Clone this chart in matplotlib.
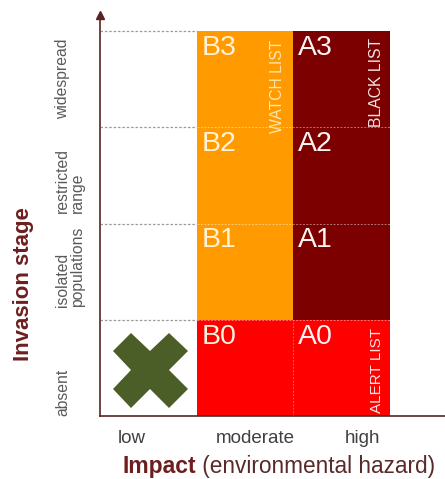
import matplotlib
matplotlib.use('Agg')
import matplotlib.pyplot as plt
from matplotlib.patches import Rectangle
from matplotlib.transforms import blended_transform_factory

plt.rcParams['font.family'] = ['Liberation Sans', 'DejaVu Sans']

# dados
impacto = ['low', 'moderate', 'high']
estagios = ['absent', 'isolated\npopulations', 'restricted\nrange', 'widespread']
codigos_moderate = ['B0', 'B1', 'B2', 'B3']
codigos_high = ['A0', 'A1', 'A2', 'A3']
cores_moderate = ['#fe0000', '#ff9a00', '#ff9a00', '#ff9a00']
cores_high = ['#fe0000', '#7c0000', '#7c0000', '#7c0000']
listas = ['WATCH LIST', 'BLACK LIST', 'ALERT LIST']
celula_excluida = ('low', 'absent')

fig = plt.figure(figsize=(4.45, 4.79), dpi=100)
ax = fig.add_axes([100/445, 63/479, 345/445, 401/479])
ax.set_xlim(0, 345/96.67)
ax.set_ylim(0, 401/96.25)

cor_eixo = '#5a2424'
for s in ['top', 'right']:
    ax.spines[s].set_visible(False)
for s in ['left', 'bottom']:
    ax.spines[s].set_color(cor_eixo)
    ax.spines[s].set_linewidth(1.2)

# células coloridas
for col, codigos, cores in [(1, codigos_moderate, cores_moderate), (2, codigos_high, cores_high)]:
    for lin, (cod, cor) in enumerate(zip(codigos, cores)):
        ax.add_patch(Rectangle((col, lin), 1, 1, facecolor=cor, edgecolor='none', zorder=1))
        cor_txt = '#fff3dc' if col == 1 else '#fff4f4'
        ax.text(col + 0.05, lin + 0.96, cod, color=cor_txt, fontsize=20.5,
                ha='left', va='top', zorder=3)

# linhas tracejadas
n = len(estagios)
for lin in range(1, n + 1):
    ax.plot([0, 1], [lin, lin], ls=(0, (2, 1.5)), color='#9a9a9a', lw=0.9, zorder=2)
    if lin < n:
        ax.plot([1, 3], [lin, lin], ls=(0, (2, 1.5)), color='#ffffff', lw=0.7, alpha=0.45, zorder=2)
ax.plot([2, 2], [0, 1], ls=(0, (2, 1.5)), color='#ffffff', lw=0.7, alpha=0.35, zorder=2)

# rótulos das listas
ax.text(1.84, 3.91, listas[0], rotation=90, ha='center', va='top', fontsize=11.3, color='#ffe6a8', zorder=3)
ax.text(2.865, 3.93, listas[1], rotation=90, ha='center', va='top', fontsize=11.3, color='#f4e4e4', zorder=3)
ax.text(2.865, 0.03, listas[2], rotation=90, ha='center', va='bottom', fontsize=11, color='#ffe4e4', zorder=3)

# X na célula excluída
cx = impacto.index(celula_excluida[0]) + 0.52
cy = estagios.index(celula_excluida[1]) + 0.48
ax.plot(cx, cy, marker='X', markersize=54, color='#4b5e27', markeredgewidth=0, zorder=3)

# seta do eixo y
ax.plot(0, 401/96.25, marker='^', markersize=6, color=cor_eixo, clip_on=False, zorder=4)

# ticks
ax.tick_params(length=0)
ax.set_xticks([i + d for i, d in zip(range(len(impacto)), [0.33, 0.61, 0.72])])
ax.set_xticklabels(impacto, fontsize=13.5, color='#404040')
ax.tick_params(axis='x', pad=10)
ax.set_yticks([])
trans = blended_transform_factory(fig.transFigure, ax.transData)
for i, (est, d) in enumerate(zip(estagios, [0.25, 0.55, 0.45, 0.5])):
    ax.text(55/445, i + d, est, rotation=90, ha='left', va='center', fontsize=11.3,
            color='#5a5a5a', transform=trans, linespacing=1.0)

# títulos dos eixos
fig.text(24/445, 1 - 284/479, 'Invasion stage', rotation=90, ha='center', va='center',
         fontsize=16, fontweight='bold', color='#6e1e1e')
t1 = fig.text(122/445, 1 - 466/479, 'Impact', ha='left', va='center',
              fontsize=16.5, fontweight='bold', color='#6e1e1e')
ax.annotate(' (environmental hazard)', xy=(1, 0), xycoords=t1, ha='left', va='bottom',
            fontsize=16.3, color='#5a2a2a', annotation_clip=False)

fig.savefig('out.png', dpi=100)
